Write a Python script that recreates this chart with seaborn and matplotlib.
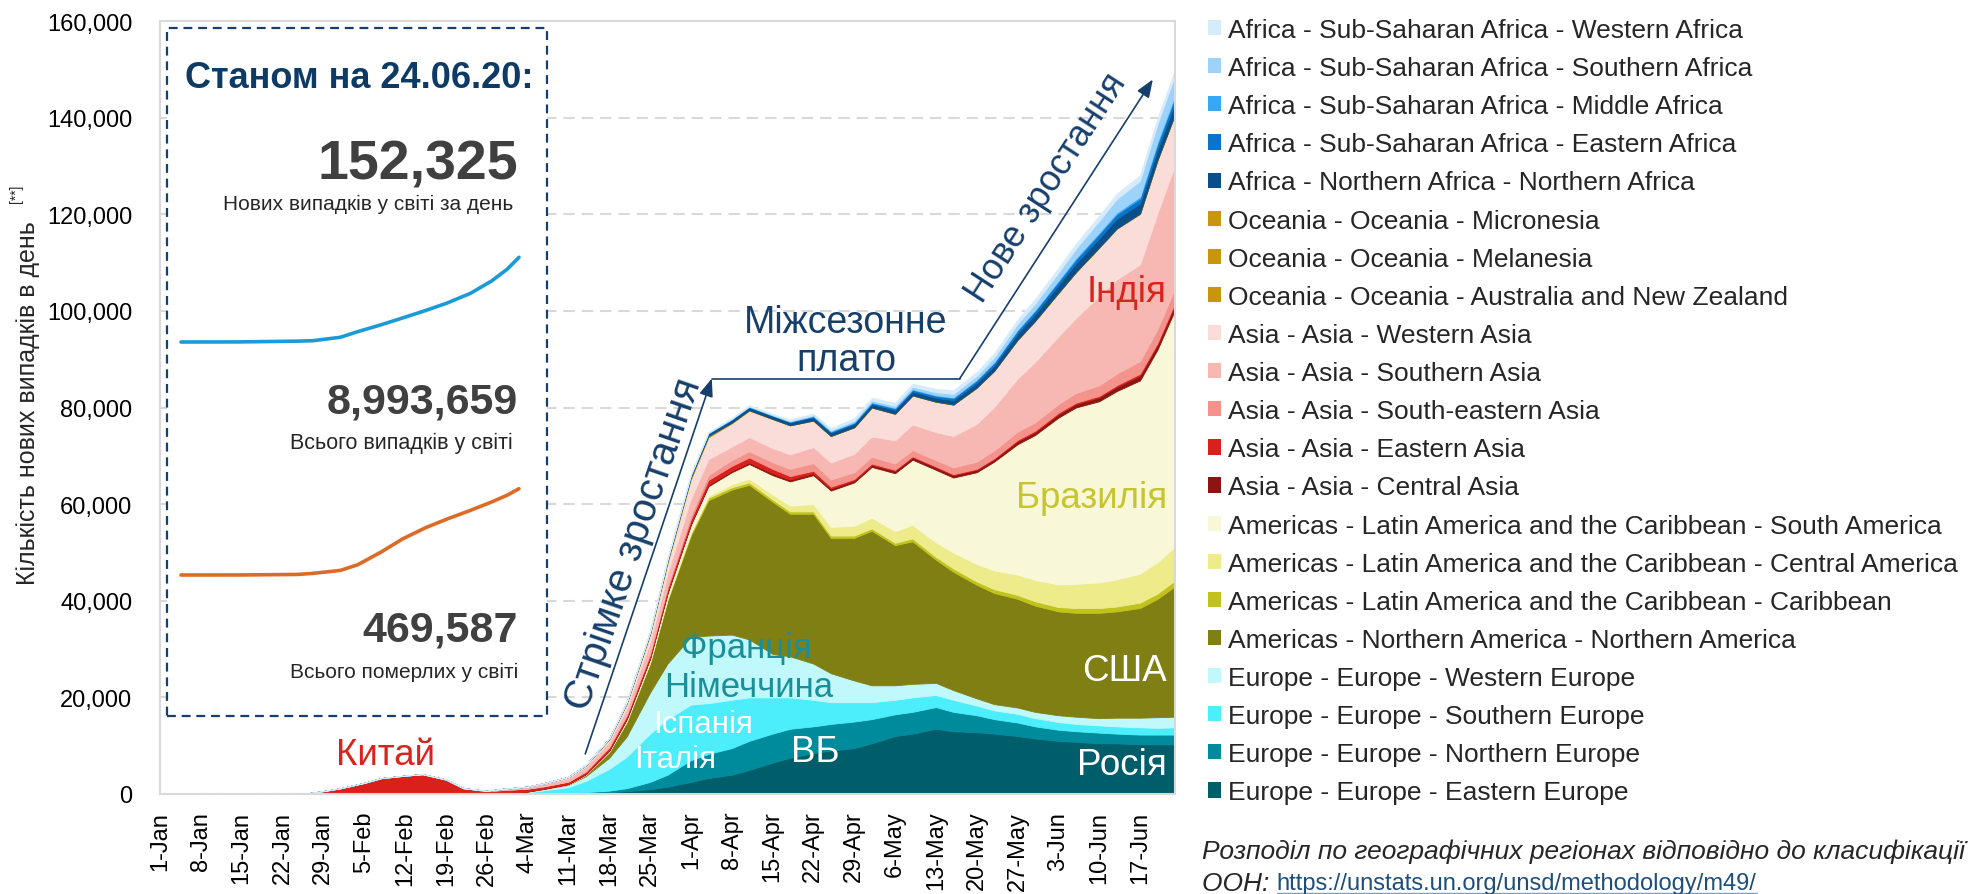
import numpy as np
import pandas as pd
import seaborn as sns
import matplotlib.pyplot as plt
from matplotlib.patches import Rectangle, Patch
from matplotlib.lines import Line2D

sns.set_theme(style="white")
plt.rcParams['font.family'] = ['Liberation Sans', 'DejaVu Sans']

W, H = 1985, 895

# day index since 1-Jan-2020 (sample dates)
days = [0, 7, 14, 21, 25, 28, 31, 35, 38, 42, 45, 49, 52, 56, 59, 63, 66, 70, 73, 77, 80, 84, 87, 91,
        94, 98, 101, 105, 108, 112, 115, 119, 122, 126, 129, 133, 136, 140, 143, 147, 150, 154, 157,
        161, 164, 168, 171, 174]

# new cases per day, thousands (stack order bottom -> top)
eastern_europe = [0]*15 + [0.02, 0.05, 0.1, 0.2, 0.4, 0.6, 1.0, 1.5, 2.5, 3.3, 4.0, 5.0, 6.5, 7.5, 8.5, 9.0, 9.5,
                           10.5, 12.0, 12.5, 13.5, 13.0, 12.8, 12.5, 12.0, 11.5, 11.0, 10.8, 10.5, 10.5, 10.3, 10.3, 10.3]
northern_europe = [0]*15 + [0, 0.05, 0.1, 0.2, 0.3, 0.6, 1.5, 2.5, 4.5, 5.0, 5.5, 6.0, 6.0, 6.0, 5.5, 5.5, 5.5,
                            5.0, 4.5, 4.5, 4.5, 4.0, 3.5, 3.0, 2.8, 2.5, 2.3, 2.2, 2.2, 2.0, 2.0, 2.0, 2.0]
southern_europe = [0]*13 + [0.1, 0.2, 0.3, 0.7, 1.2, 2.3, 4.5, 6.5, 10.0, 11.5, 11.5, 10.5, 10.0, 9.0, 7.5, 6.5,
                            5.5, 4.5, 4.0, 3.5, 3.0, 3.0, 2.5, 2.5, 2.0, 1.8, 1.8, 1.7, 1.6, 1.5, 1.5, 1.5, 1.5, 1.4, 1.5]
western_europe = [0]*14 + [0.05, 0.2, 0.3, 0.5, 1.0, 2.3, 4.2, 8.5, 11.5, 14.0, 14.0, 13.5, 12.0, 9.0, 8.5, 7.5,
                           6.0, 4.5, 3.5, 3.0, 2.8, 2.5, 2.0, 1.5, 1.3, 1.3, 1.3, 1.4, 1.5, 1.5, 1.8, 2.0, 2.2, 2.2]
northern_america = [0]*17 + [0.1, 0.3, 1.2, 3.0, 6.0, 13.0, 21.0, 28.0, 30.0, 32.0, 31.5, 29.5, 31.0, 28.0, 29.5,
                             32.0, 29.0, 29.5, 25.5, 24.5, 23.5, 23.0, 22.5, 22.0, 21.5, 21.5, 21.8, 22.0, 22.7, 24.5, 27.0]
caribbean = [0]*19 + [0.05, 0.1, 0.2, 0.3, 0.4, 0.5, 0.5, 0.5, 0.5, 0.5, 0.5, 0.5, 0.5, 0.5, 0.5, 0.6, 0.6, 0.7,
                      0.7, 0.8, 0.8, 0.9, 0.9, 1.0, 1.0, 1.0, 1.1, 1.1, 1.2]
central_america = [0]*20 + [0.05, 0.1, 0.2, 0.3, 0.4, 0.6, 0.8, 1.0, 1.2, 1.5, 1.8, 2.0, 2.2, 2.4, 2.8, 3.0, 3.3,
                            3.6, 3.9, 4.2, 4.4, 4.7, 5.0, 5.3, 5.6, 6.0, 6.5, 7.0]
south_america = [0]*16 + [0.02, 0.05, 0.1, 0.2, 0.4, 0.7, 1.0, 1.5, 2.0, 2.5, 3.0, 4.0, 5.0, 6.0, 7.5, 9.0, 10.5,
                          12.0, 13.5, 15.0, 15.5, 19.0, 22.5, 27.0, 30.0, 34.5, 36.5, 37.5, 39.0, 40.0, 44.0, 49.0]
central_asia = [0]*18 + [0.02, 0.05, 0.1, 0.1, 0.15, 0.2, 0.3, 0.3, 0.35, 0.4, 0.4, 0.4, 0.4, 0.4, 0.4, 0.5, 0.5,
                         0.5, 0.5, 0.5, 0.5, 0.6, 0.6, 0.7, 0.7, 0.8, 0.9, 1.0, 1.0, 1.1]
eastern_asia = [0, 0, 0, 0, 0.1, 0.6, 1.2, 2.3, 3.3, 3.8, 4.1, 3.0, 1.2, 0.5, 0.6, 0.6, 0.5, 0.5, 0.5, 0.6, 0.6,
                0.7, 0.8, 0.9, 1.0, 1.0, 1.0, 0.9, 0.7, 0.5, 0.4, 0.3, 0.3, 0.2, 0.2, 0.2, 0.2, 0.2, 0.2, 0.3,
                0.3, 0.3, 0.3, 0.3, 0.3, 0.4, 0.4, 0.4]
southeastern_asia = [0]*16 + [0.02, 0.05, 0.1, 0.2, 0.3, 0.4, 0.6, 0.8, 1.0, 1.2, 1.3, 1.4, 1.5, 1.6, 1.5, 1.4,
                              1.4, 1.3, 1.3, 1.3, 1.4, 1.5, 1.6, 1.7, 1.7, 1.8, 2.0, 2.2, 2.4, 2.6, 2.8, 3.0]
southern_asia = [0]*13 + [0.05, 0.2, 0.3, 0.5, 0.7, 0.9, 1.0, 1.3, 2.2, 2.5, 3.5, 3.3, 2.8, 2.9, 2.9, 3.0, 3.3,
                          3.5, 3.8, 4.2, 4.8, 5.3, 5.8, 6.5, 7.8, 9.0, 11.0, 12.5, 14.0, 15.5, 18.5, 19.5, 20.0,
                          24.0, 25.5]
western_asia = [0]*13 + [0.02, 0.05, 0.1, 0.15, 0.2, 0.3, 0.5, 0.9, 1.5, 2.2, 4.0, 4.5, 4.8, 5.5, 6.0, 6.0, 5.5,
                         5.5, 5.5, 6.0, 5.5, 6.0, 6.3, 6.5, 7.5, 7.5, 8.0, 8.5, 9.0, 9.5, 10.0, 10.5, 10.5, 11.0, 10.5]
oceania_anz = [0]*17 + [0.02, 0.05, 0.1, 0.2, 0.35, 0.45, 0.4, 0.3, 0.15, 0.1, 0.05, 0.03, 0.02, 0.02, 0.02, 0.02,
                        0.02, 0.02, 0.02, 0.02, 0.02, 0.02, 0.02, 0.02, 0.02, 0.02, 0.02, 0.03, 0.03, 0.03, 0.03]
oceania_melanesia = [0]*40 + [0.01, 0.01, 0.01, 0.01, 0.01, 0.01, 0.01, 0.01]
oceania_micronesia = [0]*40 + [0.01, 0.01, 0.01, 0.01, 0.01, 0.01, 0.01, 0.01]
northern_africa = [0]*17 + [0.02, 0.05, 0.1, 0.15, 0.2, 0.3, 0.4, 0.5, 0.6, 0.6, 0.6, 0.6, 0.7, 0.7, 0.7, 0.7,
                            0.8, 0.8, 0.8, 0.9, 1.0, 1.1, 1.3, 1.4, 1.6, 1.8, 1.9, 2.0, 2.1, 2.2, 2.3]
eastern_africa = [0]*21 + [0.02, 0.03, 0.05, 0.07, 0.1, 0.1, 0.1, 0.12, 0.15, 0.17, 0.2, 0.25, 0.3, 0.35, 0.4,
                           0.45, 0.5, 0.55, 0.6, 0.65, 0.7, 0.8, 0.9, 0.95, 1.0, 1.1, 1.2]
middle_africa = [0]*21 + [0.01, 0.02, 0.03, 0.04, 0.05, 0.05, 0.06, 0.08, 0.1, 0.12, 0.15, 0.15, 0.15, 0.15, 0.15,
                          0.15, 0.15, 0.15, 0.2, 0.2, 0.25, 0.3, 0.3, 0.35, 0.4, 0.45, 0.5]
southern_africa = [0]*19 + [0.02, 0.05, 0.1, 0.12, 0.15, 0.12, 0.1, 0.1, 0.1, 0.12, 0.2, 0.25, 0.3, 0.35, 0.4,
                            0.5, 0.6, 0.7, 0.8, 1.0, 1.2, 1.3, 1.6, 1.9, 2.4, 2.8, 3.3, 3.7, 4.0]
western_africa = [0]*21 + [0.02, 0.03, 0.05, 0.07, 0.1, 0.15, 0.2, 0.25, 0.3, 0.4, 0.5, 0.55, 0.6, 0.65, 0.7,
                           0.75, 0.8, 0.85, 0.9, 0.95, 1.0, 1.05, 1.1, 1.1, 1.15, 1.2, 1.2]

series = [eastern_europe, northern_europe, southern_europe, western_europe,
          northern_america, caribbean, central_america, south_america,
          central_asia, eastern_asia, southeastern_asia, southern_asia, western_asia,
          oceania_anz, oceania_melanesia, oceania_micronesia,
          northern_africa, eastern_africa, middle_africa, southern_africa, western_africa]

labels = ["Europe - Europe - Eastern Europe", "Europe - Europe - Northern Europe",
          "Europe - Europe - Southern Europe", "Europe - Europe - Western Europe",
          "Americas - Northern America - Northern America",
          "Americas - Latin America and the Caribbean - Caribbean",
          "Americas - Latin America and the Caribbean - Central America",
          "Americas - Latin America and the Caribbean - South America",
          "Asia - Asia - Central Asia", "Asia - Asia - Eastern Asia", "Asia - Asia - South-eastern Asia",
          "Asia - Asia - Southern Asia", "Asia - Asia - Western Asia",
          "Oceania - Oceania - Australia and New Zealand", "Oceania - Oceania - Melanesia",
          "Oceania - Oceania - Micronesia",
          "Africa - Northern Africa - Northern Africa", "Africa - Sub-Saharan Africa - Eastern Africa",
          "Africa - Sub-Saharan Africa - Middle Africa", "Africa - Sub-Saharan Africa - Southern Africa",
          "Africa - Sub-Saharan Africa - Western Africa"]

colors = ["#005e6a", "#008b9c", "#4ceefc", "#c0f8fc",
          "#7f7f14", "#c2c21e", "#eeeb8b", "#f8f8d8",
          "#8b1510", "#d9201a", "#f4928c", "#f7b8b3", "#fadcd8",
          "#c8960c", "#c8960c", "#c8960c",
          "#0b4f8a", "#0a74c9", "#36a9f5", "#9dd3fa", "#d6ecfc"]

x_tick_labels = ["1-Jan", "8-Jan", "15-Jan", "22-Jan", "29-Jan", "5-Feb", "12-Feb", "19-Feb", "26-Feb",
                 "4-Mar", "11-Mar", "18-Mar", "25-Mar", "1-Apr", "8-Apr", "15-Apr", "22-Apr", "29-Apr",
                 "6-May", "13-May", "20-May", "27-May", "3-Jun", "10-Jun", "17-Jun"]
y_ticks = [0, 20000, 40000, 60000, 80000, 100000, 120000, 140000, 160000]
y_tick_labels = ["0", "20,000", "40,000", "60,000", "80,000", "100,000", "120,000", "140,000", "160,000"]

# inset sparklines: cumulative world cases (millions) and deaths (thousands)
spark_days = [0, 30, 60, 68, 82, 91, 103, 114, 126, 137, 149, 160, 168, 174]
cum_cases_m = [0, 0.01, 0.09, 0.14, 0.5, 1.1, 1.83, 2.55, 3.35, 4.14, 5.17, 6.5, 7.75, 9.0]
cum_deaths_k = [0, 0.2, 3, 9, 25, 56, 125, 196, 258, 305, 352, 398, 435, 470]

navy = "#163f6b"


def fx(x):
    return x / W


def fy(y):
    return 1 - y / H


fig = plt.figure(figsize=(W / 100, H / 100), dpi=100)
fig.patch.set_facecolor("white")
ax = fig.add_axes([fx(160), fy(795), (1175 - 160) / W, (795 - 22) / H])
ax.set_facecolor("white")

vals = [np.array(s) * 1000 for s in series]
polys = ax.stackplot(days, *vals, colors=colors, linewidth=0.6, zorder=2)
for p, c in zip(polys, colors):
    p.set_edgecolor(c)

ax.set_xlim(0, 174)
ax.set_ylim(0, 160000)
ax.set_xticks(list(range(0, 169, 7)))
ax.set_xticklabels(x_tick_labels, rotation=90, fontsize=17)
ax.set_yticks(y_ticks)
ax.set_yticklabels(y_tick_labels, fontsize=17)
ax.tick_params(axis="both", length=0, colors="black")
ax.tick_params(axis="y", pad=20)
ax.tick_params(axis="x", pad=12)
ax.set_axisbelow(True)
ax.yaxis.grid(True, color="#d9d9d9", linestyle=(0, (5.5, 3.3)), linewidth=1.5)
ax.xaxis.grid(False)
for sp in ax.spines.values():
    sp.set_color("#d9d9d9")
    sp.set_linewidth(1.5)

# y label with superscript
fig.text(fx(28), fy(403), "Кількість нових випадків в день", rotation=90, ha="center", va="center", fontsize=18)
fig.text(fx(16), fy(194), "[**]", rotation=90, ha="center", va="center", fontsize=10)

# trend arrows
ax.annotate("", xy=(94.6, 86000), xytext=(72.9, 8300),
            arrowprops=dict(arrowstyle="-|>,head_length=0.9,head_width=0.35", color=navy, lw=1.2,
                            shrinkA=0, shrinkB=0), zorder=6)
ax.plot([94.6, 137.1], [86000, 86000], color=navy, lw=1.2, zorder=6)
ax.annotate("", xy=(170.2, 147900), xytext=(137.1, 86000),
            arrowprops=dict(arrowstyle="-|>,head_length=0.9,head_width=0.35", color=navy, lw=1.2,
                            shrinkA=0, shrinkB=0), zorder=6)

ax.text(81.2, 52000, "Стрімке зростання", rotation=71, rotation_mode="anchor", ha="center", va="center",
        fontsize=29, color=navy, zorder=7)
ax.text(152.0, 125500, "Нове зростання", rotation=57, rotation_mode="anchor", ha="center", va="center",
        fontsize=26, color=navy, zorder=7)
ax.text(117.6, 97600, "Міжсезонне", ha="center", va="center", fontsize=27, color=navy, zorder=7)
ax.text(117.6, 89800, "плато", ha="center", va="center", fontsize=27, color=navy, zorder=7)

# region labels
big = 26.5
ax.text(38.7, 8100, "Китай", ha="center", va="center", fontsize=big, color="#d8241c", zorder=7)
ax.text(100.5, 30300, "Франція", ha="center", va="center", fontsize=25, color="#1b8f99", zorder=7)
ax.text(101.0, 22200, "Німеччина", ha="center", va="center", fontsize=25, color="#1b8f99", zorder=7)
ax.text(93.0, 14500, "Іспанія", ha="center", va="center", fontsize=22.5, color="white", zorder=7)
ax.text(88.3, 7200, "Італія", ha="center", va="center", fontsize=22.5, color="white", zorder=7)
ax.text(112.3, 8700, "ВБ", ha="center", va="center", fontsize=big, color="white", zorder=7)
ax.text(172.6, 25600, "США", ha="right", va="center", fontsize=big, color="white", zorder=7)
ax.text(172.6, 6200, "Росія", ha="right", va="center", fontsize=big, color="white", zorder=7)
ax.text(172.6, 61400, "Бразилія", ha="right", va="center", fontsize=big, color="#c6c42f", zorder=7)
ax.text(172.6, 104000, "Індія", ha="right", va="center", fontsize=big, color="#d8241c", zorder=7)

# inset box with totals
box = Rectangle((fx(167), fy(717)), (547 - 167) / W, (717 - 28.6) / H, transform=fig.transFigure,
                facecolor="white", edgecolor=navy, linewidth=1.6, linestyle=(0, (4, 2.6)),
                clip_on=False, zorder=5)
ax.add_patch(box)

fig.text(fx(359.5), fy(78), "Станом на 24.06.20:", ha="center", va="center", fontsize=26,
         fontweight="bold", color="#0e3a66", zorder=8)
fig.text(fx(518), fy(166), "152,325", ha="right", va="center", fontsize=40, fontweight="bold",
         color="#404040", zorder=8)
fig.text(fx(513), fy(204), "Нових випадків у світі за день", ha="right", va="center", fontsize=15, zorder=8)
fig.text(fx(518), fy(402), "8,993,659", ha="right", va="center", fontsize=31, fontweight="bold",
         color="#404040", zorder=8)
fig.text(fx(513), fy(443), "Всього випадків у світі", ha="right", va="center", fontsize=15.5, zorder=8)
fig.text(fx(518), fy(631), "469,587", ha="right", va="center", fontsize=31, fontweight="bold",
         color="#404040", zorder=8)
fig.text(fx(518), fy(672), "Всього померлих у світі", ha="right", va="center", fontsize=15, zorder=8)

ax_c = fig.add_axes([fx(181), fy(343), 338 / W, (343 - 258.3) / H], zorder=10)
sns.lineplot(x=spark_days, y=cum_cases_m, ax=ax_c, color="#1a9bd7", linewidth=2.6)
ax_c.set_xlim(0, 174)
ax_c.set_ylim(0, 9.0)
ax_c.axis("off")
ax_d = fig.add_axes([fx(181), fy(576), 338 / W, (576 - 489.7) / H], zorder=10)
sns.lineplot(x=spark_days, y=cum_deaths_k, ax=ax_d, color="#dd6b28", linewidth=2.6)
ax_d.set_xlim(0, 174)
ax_d.set_ylim(0, 470)
ax_d.axis("off")
for a in (ax_c, ax_d):
    a.patch.set_alpha(0)
    for ln in a.lines:
        ln.set_clip_on(False)

# legend, top entry first
handles = [Patch(facecolor=c, edgecolor="none") for c in colors[::-1]]
fig.legend(handles, labels[::-1], loc="upper left", bbox_to_anchor=(fx(1208), fy(19)), frameon=False,
           fontsize=19, handlelength=0.51, handleheight=0.51, handletextpad=0.23, labelspacing=0.535,
           borderpad=0, borderaxespad=0)

# source note
fig.text(fx(1202), fy(852), "Розподіл по географічних регіонах відповідно до класифікації",
         style="italic", fontsize=19, va="center")
t_oon = fig.text(fx(1202), fy(884), "ООН: ", style="italic", fontsize=19, va="center")
fig.canvas.draw()
bb = t_oon.get_window_extent()
x_url = bb.x1 / W
t_url = fig.text(x_url, fy(884), "https://unstats.un.org/unsd/methodology/m49/", fontsize=17, va="center",
                 color="#1f4e79")
fig.canvas.draw()
ub = t_url.get_window_extent()
fig.add_artist(Line2D([ub.x0 / W, ub.x1 / W], [(ub.y0 + 1) / H, (ub.y0 + 1) / H], color="#7f9fbf", lw=1))

fig.savefig("out.png", dpi=100, facecolor="white")
